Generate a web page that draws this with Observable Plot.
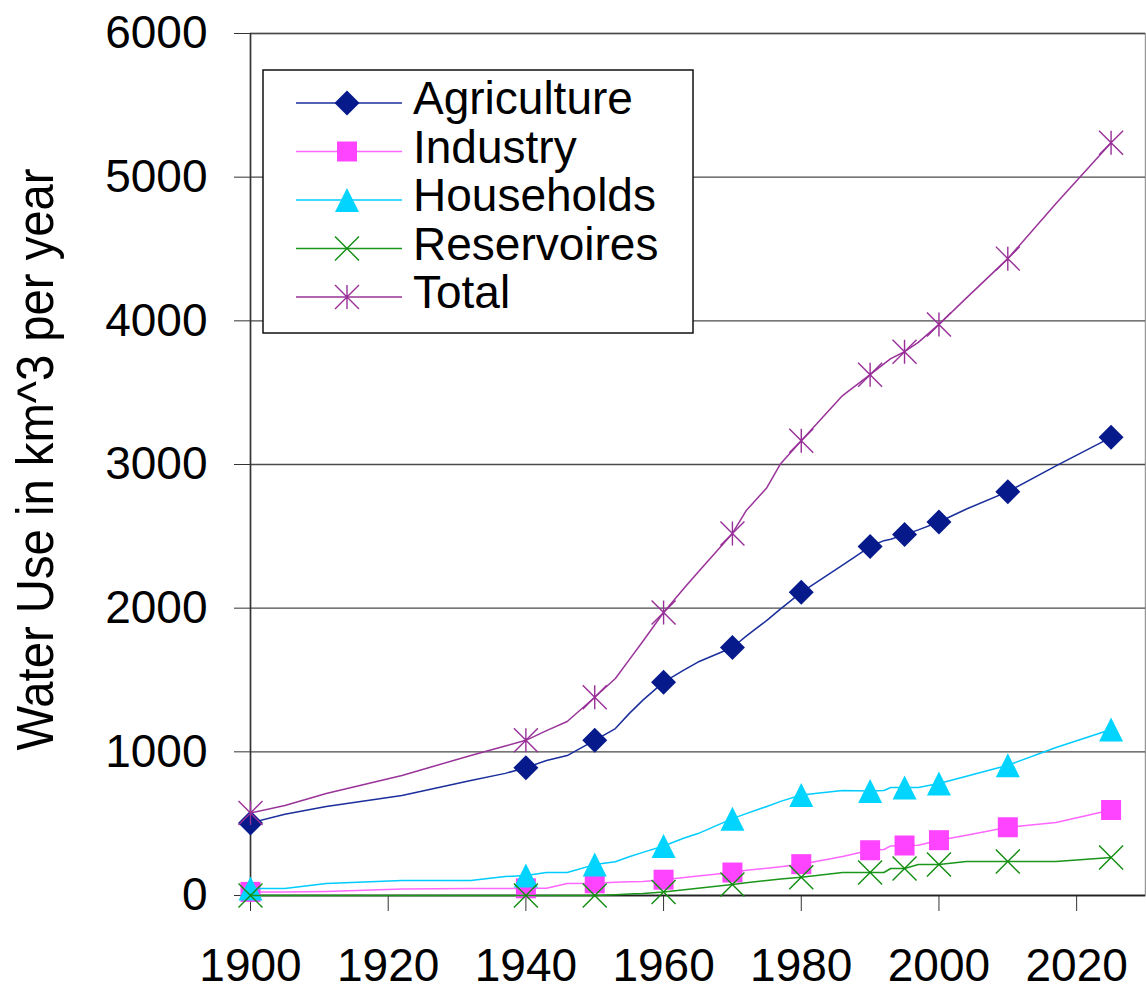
<!DOCTYPE html>
<html>
<head>
<meta charset="utf-8">
<script src="https://cdn.jsdelivr.net/npm/d3@7"></script>
<script src="https://cdn.jsdelivr.net/npm/@observablehq/plot@0.6"></script>
<style>
  body { margin: 0; background: #fff; }
  #chart { position: relative; width: 1146px; height: 989px; }
</style>
</head>
<body>
<div id="chart"></div>
<script>
// ---------- DATA ----------
const lineYears = [1900, 1905, 1911, 1922, 1932, 1937, 1940, 1943, 1946, 1950, 1953, 1955, 1957, 1960, 1963, 1965, 1970, 1972, 1975, 1977, 1980, 1986, 1990, 1992, 1993, 1995, 1997, 2000, 2004, 2010, 2017, 2025];
const markerYears = [1900, 1940, 1950, 1960, 1970, 1980, 1990, 1995, 2000, 2010, 2025];

const agriculture = [505, 565, 619, 696, 800, 850, 889, 940, 974, 1080, 1162, 1266, 1360, 1485, 1570, 1625, 1726, 1805, 1915, 1995, 2110, 2300, 2429, 2470, 2480, 2512, 2545, 2600, 2690, 2811, 2990, 3189];
const industry    = [25, 25, 28, 45, 48, 48, 50, 50, 83, 85, 92, 95, 98, 110, 125, 135, 160, 175, 190, 200, 218, 271, 315, 320, 345, 348, 350, 385, 420, 475, 508, 595];
const households  = [49, 49, 83, 104, 104, 132, 139, 160, 160, 215, 235, 270, 300, 345, 400, 431, 535, 570, 620, 655, 700, 731, 728, 731, 752, 752, 752, 779, 830, 907, 1030, 1155];
const reservoires = [0, 0, 0, 0, 0, 0, 0, 0, 0, 0, 5, 10, 14, 25, 40, 50, 77, 88, 105, 115, 127, 160, 160, 160, 188, 188, 216, 216, 237, 237, 237, 264];
const total       = [575, 626, 710, 835, 975, 1040, 1080, 1148, 1211, 1380, 1510, 1640, 1770, 1970, 2140, 2250, 2520, 2679, 2839, 3006, 3165, 3480, 3625, 3700, 3737, 3785, 3850, 3975, 4160, 4433, 4816, 5240];

const seriesNames = ["Agriculture", "Industry", "Households", "Reservoires", "Total"];
const seriesValues = [agriculture, industry, households, reservoires, total];

const yTicks = [0, 1000, 2000, 3000, 4000, 5000, 6000];
const xTicks = [1900, 1920, 1940, 1960, 1980, 2000, 2020];
const yLabel = "Water Use in km^3 per year";

// ---------- SYMBOLS & STYLES ----------
const rad = size => Math.sqrt(size / Math.PI);
const symDiamond = {draw(c, s) { const r = rad(s); c.moveTo(0, -r); c.lineTo(r, 0); c.lineTo(0, r); c.lineTo(-r, 0); c.closePath(); }};
const symSquare = {draw(c, s) { const r = rad(s); c.rect(-r, -r, 2 * r, 2 * r); }};
const symTriangle = {draw(c, s) { const r = rad(s); c.moveTo(0, -r); c.lineTo(r, r); c.lineTo(-r, r); c.closePath(); }};
const symTimes = {draw(c, s) { const r = rad(s); c.moveTo(-r, -r); c.lineTo(r, r); c.moveTo(-r, r); c.lineTo(r, -r); }};
const symStar = {draw(c, s) { const r = rad(s); c.moveTo(-r, -r); c.lineTo(r, r); c.moveTo(-r, r); c.lineTo(r, -r); c.moveTo(0, -r); c.lineTo(0, r); }};

const styles = {
  Agriculture: {symbol: symDiamond, r: 12.5, fill: "#061a8c", stroke: "none", sw: 0, line: "#1a2e9c"},
  Industry:    {symbol: symSquare, r: 10, fill: "#ff44ff", stroke: "none", sw: 0, line: "#ff66ff"},
  Households:  {symbol: symTriangle, r: 12, fill: "#00d4ff", stroke: "none", sw: 0, line: "#00ccff"},
  Reservoires: {symbol: symTimes, r: 12, fill: "none", stroke: "#118c11", sw: 1.4, line: "#1a961a"},
  Total:       {symbol: symStar, r: 12, fill: "none", stroke: "#982f98", sw: 1.4, line: "#993399"}
};

// ---------- TABLE ----------
const rows = [];
seriesNames.forEach((name, i) => {
  seriesValues[i].forEach((v, j) => rows.push({series: name, year: lineYears[j], value: v}));
});

const seriesMarks = seriesNames.flatMap(name => {
  const st = styles[name];
  const data = rows.filter(d => d.series === name);
  return [
    Plot.line(data, {x: "year", y: "value", stroke: st.line, strokeWidth: 1.5}),
    Plot.dot(data.filter(d => markerYears.includes(d.year)), {
      x: "year", y: "value", symbol: st.symbol, r: st.r,
      fill: st.fill, stroke: st.stroke, strokeWidth: st.sw
    })
  ];
});

const chart = Plot.plot({
  width: 1146,
  height: 989,
  marginLeft: 250,
  marginRight: 1,
  marginTop: 33,
  marginBottom: 94,
  style: {fontFamily: "'Liberation Sans', Arial, sans-serif", background: "white", overflow: "visible", color: "black"},
  x: {domain: [1900, 2030]},
  y: {domain: [0, 6000]},
  marks: [
    Plot.frame({stroke: "#9a9a9a", strokeWidth: 1.5}),
    Plot.gridY(yTicks, {stroke: "#4a4a4a", strokeOpacity: 1, strokeWidth: 1.3}),
    Plot.axisY({ticks: yTicks, tickSize: 16, tickPadding: 27, fontSize: 46, label: null, stroke: "#333", tickFormat: d => String(d)}),
    Plot.axisX({ticks: xTicks, tickSize: 16, tickPadding: 37, fontSize: 46, label: null, stroke: "#333", tickFormat: d => String(d)}),
    Plot.ruleY([0], {stroke: "#222", strokeWidth: 1.5}),
    Plot.ruleX([1900], {stroke: "#333", strokeWidth: 1.5}),
    Plot.text([yLabel], {text: d => d, frameAnchor: "left", textAnchor: "middle", lineAnchor: "middle", rotate: -90, dx: -214, dy: -5, fontSize: 52, fill: "black"}),
    ...seriesMarks
  ]
});

document.getElementById("chart").appendChild(chart);

// condense y label like the original
const svg = d3.select(chart);
svg.selectAll("text").filter(function() { return this.textContent === yLabel; })
  .attr("textLength", 582).attr("lengthAdjust", "spacingAndGlyphs");

// ---------- LEGEND (inside plot area) ----------
const lg = svg.append("g").attr("font-family", "'Liberation Sans', Arial, sans-serif").attr("text-anchor", "start");
lg.append("rect").attr("x", 263).attr("y", 70).attr("width", 430).attr("height", 263)
  .attr("fill", "white").attr("stroke", "#111").attr("stroke-width", 1.5);
seriesNames.forEach((name, i) => {
  const st = styles[name];
  const y = 103 + i * 48.5;
  lg.append("line").attr("x1", 296).attr("x2", 402).attr("y1", y).attr("y2", y)
    .attr("stroke", st.line).attr("stroke-width", 1.5);
  lg.append("path").attr("transform", `translate(347,${y})`)
    .attr("d", d3.symbol(st.symbol, Math.PI * st.r * st.r)())
    .attr("fill", st.fill).attr("stroke", st.stroke === "none" ? null : st.stroke)
    .attr("stroke-width", st.sw || null);
  lg.append("text").attr("x", 413).attr("y", y + 11).attr("font-size", 46).attr("fill", "black")
    .attr("text-anchor", "start").text(name);
});
</script>
</body>
</html>
